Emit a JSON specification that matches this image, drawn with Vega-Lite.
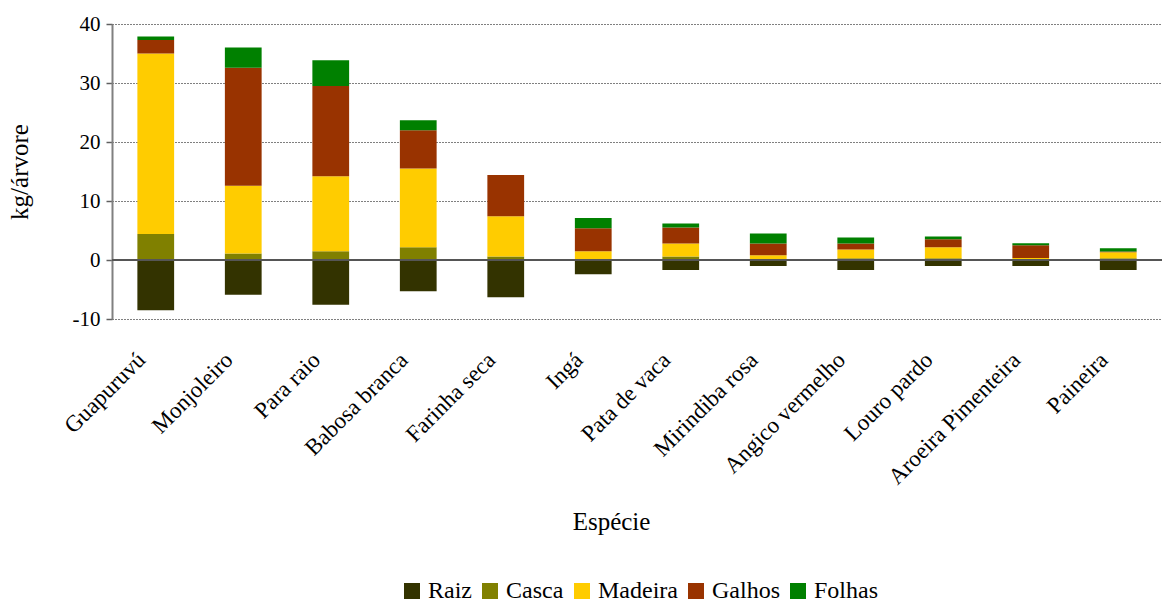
{
  "$schema": "https://vega.github.io/schema/vega-lite/v6.json",
  "width": 1050,
  "height": 295,
  "autosize": {"type": "none"},
  "padding": {"left": 112, "top": 24, "right": 0, "bottom": 285},
  "background": "white",
  "config": {
    "view": {"stroke": null},
    "font": "Liberation Serif",
    "style": {"guide-label": {"font": "Liberation Serif", "fill": "black"}, "guide-title": {"font": "Liberation Serif", "fill": "black"}},
    "axis": {"labelFont": "Liberation Serif", "titleFont": "Liberation Serif", "labelColor": "black", "titleColor": "black", "titleFontWeight": "normal"},
    "legend": {"labelFont": "Liberation Serif", "labelColor": "black"}
  },
  "data": {
    "values": [
      {"especie": "Guapuruvú", "parte": "Raiz", "valor": -8.5},
      {"especie": "Guapuruvú", "parte": "Casca", "valor": 4.4},
      {"especie": "Guapuruvú", "parte": "Madeira", "valor": 30.6},
      {"especie": "Guapuruvú", "parte": "Galhos", "valor": 2.3},
      {"especie": "Guapuruvú", "parte": "Folhas", "valor": 0.6},
      {"especie": "Monjoleiro", "parte": "Raiz", "valor": -5.9},
      {"especie": "Monjoleiro", "parte": "Casca", "valor": 1.1},
      {"especie": "Monjoleiro", "parte": "Madeira", "valor": 11.5},
      {"especie": "Monjoleiro", "parte": "Galhos", "valor": 20.0},
      {"especie": "Monjoleiro", "parte": "Folhas", "valor": 3.4},
      {"especie": "Para raio", "parte": "Raiz", "valor": -7.6},
      {"especie": "Para raio", "parte": "Casca", "valor": 1.5},
      {"especie": "Para raio", "parte": "Madeira", "valor": 12.7},
      {"especie": "Para raio", "parte": "Galhos", "valor": 15.3},
      {"especie": "Para raio", "parte": "Folhas", "valor": 4.35},
      {"especie": "Babosa branca", "parte": "Raiz", "valor": -5.3},
      {"especie": "Babosa branca", "parte": "Casca", "valor": 2.15},
      {"especie": "Babosa branca", "parte": "Madeira", "valor": 13.35},
      {"especie": "Babosa branca", "parte": "Galhos", "valor": 6.5},
      {"especie": "Babosa branca", "parte": "Folhas", "valor": 1.7},
      {"especie": "Farinha seca", "parte": "Raiz", "valor": -6.3},
      {"especie": "Farinha seca", "parte": "Casca", "valor": 0.6},
      {"especie": "Farinha seca", "parte": "Madeira", "valor": 6.8},
      {"especie": "Farinha seca", "parte": "Galhos", "valor": 7.0},
      {"especie": "Farinha seca", "parte": "Folhas", "valor": 0},
      {"especie": "Ingá", "parte": "Raiz", "valor": -2.4},
      {"especie": "Ingá", "parte": "Casca", "valor": 0.1},
      {"especie": "Ingá", "parte": "Madeira", "valor": 1.4},
      {"especie": "Ingá", "parte": "Galhos", "valor": 3.9},
      {"especie": "Ingá", "parte": "Folhas", "valor": 1.7},
      {"especie": "Pata de vaca", "parte": "Raiz", "valor": -1.7},
      {"especie": "Pata de vaca", "parte": "Casca", "valor": 0.6},
      {"especie": "Pata de vaca", "parte": "Madeira", "valor": 2.2},
      {"especie": "Pata de vaca", "parte": "Galhos", "valor": 2.7},
      {"especie": "Pata de vaca", "parte": "Folhas", "valor": 0.7},
      {"especie": "Mirindiba rosa", "parte": "Raiz", "valor": -1.0},
      {"especie": "Mirindiba rosa", "parte": "Casca", "valor": 0.05},
      {"especie": "Mirindiba rosa", "parte": "Madeira", "valor": 0.75},
      {"especie": "Mirindiba rosa", "parte": "Galhos", "valor": 2.0},
      {"especie": "Mirindiba rosa", "parte": "Folhas", "valor": 1.7},
      {"especie": "Angico vermelho", "parte": "Raiz", "valor": -1.7},
      {"especie": "Angico vermelho", "parte": "Casca", "valor": 0.3},
      {"especie": "Angico vermelho", "parte": "Madeira", "valor": 1.5},
      {"especie": "Angico vermelho", "parte": "Galhos", "valor": 1.0},
      {"especie": "Angico vermelho", "parte": "Folhas", "valor": 1.0},
      {"especie": "Louro pardo", "parte": "Raiz", "valor": -1.0},
      {"especie": "Louro pardo", "parte": "Casca", "valor": 0.3},
      {"especie": "Louro pardo", "parte": "Madeira", "valor": 1.85},
      {"especie": "Louro pardo", "parte": "Galhos", "valor": 1.35},
      {"especie": "Louro pardo", "parte": "Folhas", "valor": 0.5},
      {"especie": "Aroeira Pimenteira", "parte": "Raiz", "valor": -1.0},
      {"especie": "Aroeira Pimenteira", "parte": "Casca", "valor": 0.1},
      {"especie": "Aroeira Pimenteira", "parte": "Madeira", "valor": 0.25},
      {"especie": "Aroeira Pimenteira", "parte": "Galhos", "valor": 2.15},
      {"especie": "Aroeira Pimenteira", "parte": "Folhas", "valor": 0.35},
      {"especie": "Paineira", "parte": "Raiz", "valor": -1.7},
      {"especie": "Paineira", "parte": "Casca", "valor": 0.3},
      {"especie": "Paineira", "parte": "Madeira", "valor": 1.0},
      {"especie": "Paineira", "parte": "Galhos", "valor": 0.15},
      {"especie": "Paineira", "parte": "Folhas", "valor": 0.55}
    ]
  },
  "layer": [
    {
      "transform": [
        {"calculate": "indexof(['Raiz','Casca','Madeira','Galhos','Folhas'], datum.parte)", "as": "ordem"}
      ],
      "mark": {"type": "bar"},
      "encoding": {
        "x": {
          "field": "especie", "type": "nominal",
          "sort": ["Guapuruvú", "Monjoleiro", "Para raio", "Babosa branca", "Farinha seca", "Ingá", "Pata de vaca", "Mirindiba rosa", "Angico vermelho", "Louro pardo", "Aroeira Pimenteira", "Paineira"],
          "scale": {"paddingInner": 0.58, "paddingOuter": 0.29},
          "axis": {
            "title": "Espécie", "titleFontSize": 25, "titleY": 190, "titleX": 499,
            "labelAngle": -45, "labelAlign": "right", "labelBaseline": "middle",
            "labelFontSize": 23, "labelPadding": 37, "labelOffset": -14,
            "domain": false, "ticks": false, "grid": false
          }
        },
        "y": {
          "field": "valor", "type": "quantitative", "stack": "zero",
          "scale": {"domain": [-10, 40], "nice": false},
          "axis": {
            "title": "kg/árvore", "titleFontSize": 25, "titleX": -80,
            "values": [-10, 0, 10, 20, 30, 40],
            "labelExpr": "replace(datum.label, '−', '-')",
            "labelFontSize": 21, "labelPadding": 6,
            "domainColor": "#808080", "domainWidth": 2,
            "tickColor": "#606060", "tickSize": 6, "tickWidth": 1.5,
            "grid": true, "gridColor": "black", "gridDash": [1, 2], "gridWidth": 1
          }
        },
        "order": {"field": "ordem", "type": "quantitative", "sort": "ascending"},
        "color": {
          "field": "parte", "type": "nominal",
          "sort": ["Raiz", "Casca", "Madeira", "Galhos", "Folhas"],
          "scale": {"domain": ["Raiz", "Casca", "Madeira", "Galhos", "Folhas"], "range": ["#333300", "#808000", "#FFCC00", "#993300", "#008000"]},
          "legend": {
            "title": null, "orient": "none", "direction": "horizontal",
            "legendX": 288, "legendY": 555,
            "labelFont": "Liberation Serif",
            "symbolType": "square", "symbolSize": 256, "symbolStrokeWidth": 0,
            "labelFontSize": 24, "columnPadding": 6, "labelOffset": 4
          }
        }
      }
    },
    {
      "data": {"values": [{"zero": 0}]},
      "mark": {"type": "rule", "color": "#555555", "strokeWidth": 2},
      "encoding": {"y": {"field": "zero", "type": "quantitative"}}
    }
  ]
}
